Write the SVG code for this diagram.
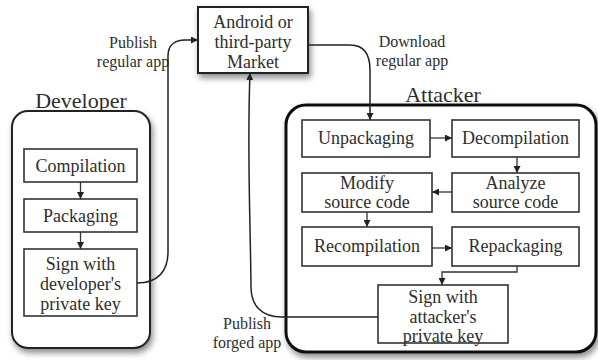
<svg xmlns="http://www.w3.org/2000/svg" width="598" height="360" viewBox="0 0 598 360">
<style>
text{font-family:"Liberation Serif","Times New Roman",serif;fill:#2e2e2e;text-anchor:middle}
.t{font-size:18px}
.l{font-size:16px}
.h{font-size:22px}
.box{fill:#fff;stroke:#333;stroke-width:1.6}
.outer{fill:#fff;stroke:#222;stroke-width:2}
.outer2{fill:#fff;stroke:#111;stroke-width:3}
.c{fill:none;stroke:#222;stroke-width:1.5}
.s{fill:none;stroke:#333;stroke-width:1.3}
</style>
<defs>
<filter id="sh" x="-20%" y="-20%" width="140%" height="140%">
<feDropShadow dx="2" dy="4" stdDeviation="3" flood-color="#000" flood-opacity="0.45"/>
</filter>
<marker id="ah" viewBox="0 0 10 10" refX="10" refY="5" markerWidth="7" markerHeight="7" markerUnits="userSpaceOnUse" orient="auto">
<path d="M0,0 L10,5 L0,10 z" fill="#222"/>
</marker>
</defs>

<g id="developer">
<text class="h" x="81" y="108">Developer</text>
<rect class="outer" x="12" y="111" width="138" height="237" rx="16" filter="url(#sh)"/>
</g>
<g id="attacker">
<text class="h" x="443" y="102">Attacker</text>
<rect class="outer2" x="286" y="105" width="310" height="247" rx="20" filter="url(#sh)"/>
</g>
<g id="market">
<rect class="outer" x="198" y="7" width="110" height="66" filter="url(#sh)"/>
<text class="t" x="253" y="28">Android or</text>
<text class="t" x="253" y="48">third-party</text>
<text class="t" x="253" y="68">Market</text>
</g>

<g id="compilation">
<rect class="box" x="24" y="149" width="113" height="33"/>
<text class="t" x="80.5" y="172">Compilation</text>
</g>
<g id="packaging">
<rect class="box" x="24" y="199" width="113" height="33"/>
<text class="t" x="80.5" y="222">Packaging</text>
</g>
<g id="sign-dev">
<rect class="box" x="24" y="249" width="113" height="67"/>
<text class="t" x="80.5" y="270">Sign with</text>
<text class="t" x="80.5" y="290">developer's</text>
<text class="t" x="80.5" y="310">private key</text>
</g>

<g id="unpackaging">
<rect class="box" x="302" y="120" width="128" height="37"/>
<text class="t" x="366" y="144">Unpackaging</text>
</g>
<g id="decompilation">
<rect class="box" x="452" y="120" width="127" height="37"/>
<text class="t" x="515.5" y="144">Decompilation</text>
</g>
<g id="modify">
<rect class="box" x="302" y="173" width="130" height="39"/>
<text class="t" x="367" y="189">Modify</text>
<text class="t" x="367" y="208">source code</text>
</g>
<g id="analyze">
<rect class="box" x="452" y="173" width="127" height="39"/>
<text class="t" x="515.5" y="189">Analyze</text>
<text class="t" x="515.5" y="208">source code</text>
</g>
<g id="recompilation">
<rect class="box" x="302" y="227" width="130" height="39"/>
<text class="t" x="367" y="252">Recompilation</text>
</g>
<g id="repackaging">
<rect class="box" x="452" y="227" width="127" height="39"/>
<text class="t" x="515.5" y="252">Repackaging</text>
</g>
<g id="sign-att">
<rect class="box" x="378" y="285" width="130" height="58"/>
<text class="t" x="443" y="303">Sign with</text>
<text class="t" x="443" y="323">attacker's</text>
<text class="t" x="443" y="342">private key</text>
</g>

<g id="labels">
<text class="l" x="133" y="48">Publish</text>
<text class="l" x="133" y="67">regular app</text>
<text class="l" x="412" y="47">Download</text>
<text class="l" x="412" y="66">regular app</text>
<text class="l" x="247" y="329">Publish</text>
<text class="l" x="247" y="348">forged app</text>
</g>

<g id="connectors">
<path class="s" d="M80.5,182 L80.5,199" marker-end="url(#ah)"/>
<path class="s" d="M80.5,232 L80.5,249" marker-end="url(#ah)"/>
<path class="c" d="M137,283 C158,283 168,271 168,252 L168,56 C168,45 175,40 185,40 L198,40" marker-end="url(#ah)"/>
<path class="c" d="M308,45 L350,45 C364,45 370,54 370,70 L370,120" marker-end="url(#ah)"/>
<path class="c" d="M378,317 L282,317 C261,317 251,305 251,287 C250,200 247,150 250,73" marker-end="url(#ah)"/>
<path class="s" d="M430,138 L452,138" marker-end="url(#ah)"/>
<path class="s" d="M517,157 L517,173" marker-end="url(#ah)"/>
<path class="s" d="M452,192 L432,192" marker-end="url(#ah)"/>
<path class="s" d="M367,212 L367,227" marker-end="url(#ah)"/>
<path class="s" d="M432,248 L452,248" marker-end="url(#ah)"/>
<path class="s" d="M517,266 L517,272 L442,272 L442,285" marker-end="url(#ah)"/>
</g>
</svg>
